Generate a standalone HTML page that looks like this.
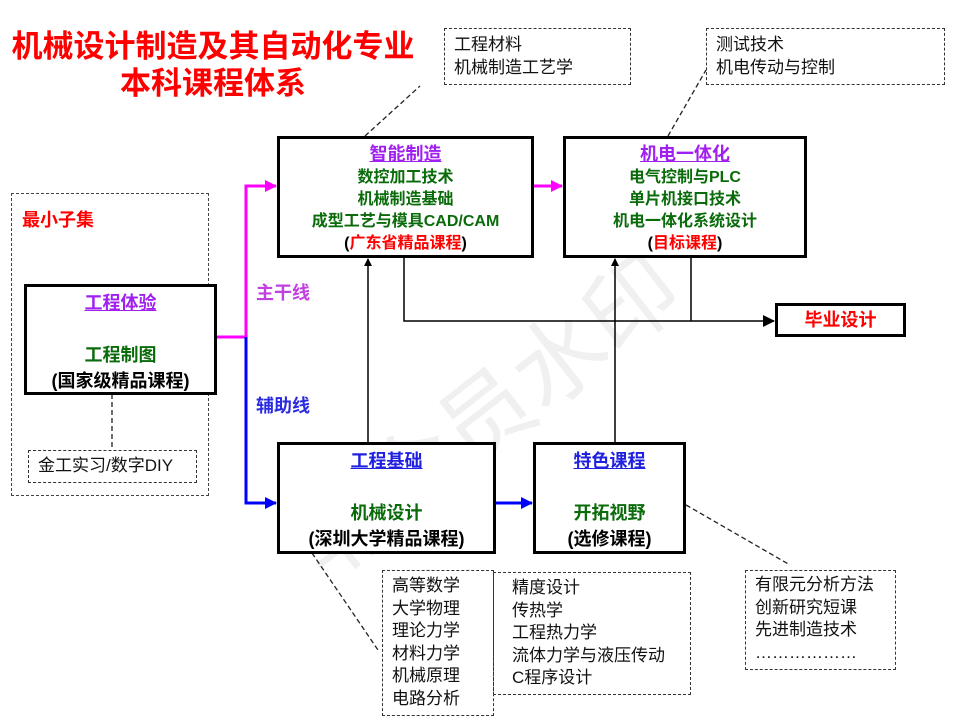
<!DOCTYPE html>
<html><head><meta charset="utf-8"><style>
body{margin:0;width:960px;height:720px;background:#fff;position:relative;overflow:hidden;font-family:"Liberation Sans","Noto Sans CJK SC",sans-serif}
.a{position:absolute}
.box{position:absolute;border:3px solid #000;box-sizing:border-box;background:#fff;text-align:center;font-weight:bold}
.dash{position:absolute;border:1.5px dashed #333;box-sizing:border-box;font-size:17px;line-height:22.5px;color:#111;padding-left:9px}
.g{color:#0a6b0a}.r{color:#f00}.p{color:#a020f0;text-decoration:underline}.b{color:#2020e0;text-decoration:underline}
.t{font-size:16px;line-height:22px}
</style></head><body>
<div class="a" style="font-size:92px;color:#f0f0f0;transform:rotate(-38deg);transform-origin:left top;white-space:nowrap;top:500px;left:260px">非会员水印</div>
<div class="a r" style="left:0;width:426px;top:28px;text-align:center;font-size:31px;font-weight:bold;line-height:37px;white-space:nowrap">机械设计制造及其自动化专业<br>本科课程体系</div>
<div class="dash" style="left:444px;top:28px;width:187px;height:57px;padding-top:5px">工程材料<br>机械制造工艺学</div>
<div class="dash" style="left:706px;top:28px;width:239px;height:57px;padding-top:5px">测试技术<br>机电传动与控制</div>
<div class="a" style="left:11px;top:193px;width:198px;height:303px;border:1.5px dashed #444;box-sizing:border-box"></div>
<div class="a r" style="left:22px;top:206px;font-size:18px;font-weight:bold">最小子集</div>
<svg class="a" style="left:0;top:0" width="960" height="720">
<defs>
<marker id="mk" markerWidth="8" markerHeight="8" refX="7" refY="4" orient="auto" markerUnits="userSpaceOnUse"><path d="M0,0L8,4L0,8z" fill="#000"/></marker>
<marker id="mm" markerWidth="12" markerHeight="12" refX="11" refY="6" orient="auto" markerUnits="userSpaceOnUse"><path d="M0,0L12,6L0,12z" fill="#f0f"/></marker>
<marker id="mb" markerWidth="12" markerHeight="12" refX="11" refY="6" orient="auto" markerUnits="userSpaceOnUse"><path d="M0,0L12,6L0,12z" fill="#00f"/></marker>
<marker id="mk2" markerWidth="12" markerHeight="12" refX="11" refY="6" orient="auto" markerUnits="userSpaceOnUse"><path d="M0,0L12,6L0,12z" fill="#000"/></marker>
</defs>
<g stroke="#222" stroke-dasharray="5,3" stroke-width="1.3" fill="none">
<line x1="365" y1="136" x2="420" y2="86"/><line x1="668" y1="136" x2="706" y2="70"/>
<line x1="312" y1="553" x2="378" y2="650"/><line x1="686" y1="505" x2="790" y2="565"/>
<line x1="112" y1="394" x2="112" y2="450"/>
</g>
<polyline points="216,337 246,337 246,186 276,186" stroke="#f0f" stroke-width="3" fill="none" marker-end="url(#mm)"/>
<line x1="533" y1="186" x2="562" y2="186" stroke="#f0f" stroke-width="3" marker-end="url(#mm)"/>
<polyline points="246,337 246,503 276,503" stroke="#00f" stroke-width="3" fill="none" marker-end="url(#mb)"/>
<line x1="495" y1="503" x2="532" y2="503" stroke="#00f" stroke-width="3" marker-end="url(#mb)"/>
<g stroke="#000" stroke-width="1.5" fill="none">
<line x1="368" y1="442" x2="368" y2="259" marker-end="url(#mk)"/>
<line x1="615" y1="442" x2="615" y2="259" marker-end="url(#mk)"/>
<polyline points="404,257 404,321 774,321" marker-end="url(#mk2)"/>
<line x1="691" y1="257" x2="691" y2="321"/>
</g>
</svg>
<div class="a" style="left:256px;top:279px;font-size:18px;font-weight:bold;color:#c040e0">主干线</div>
<div class="a" style="left:256px;top:392px;font-size:18px;font-weight:bold;color:#2a2ae0">辅助线</div>
<div class="dash" style="left:28px;top:450px;width:169px;height:33px;padding-top:4px;font-size:17px">金工实习/数字DIY</div>
<div class="box" style="left:24px;top:284px;width:193px;height:111px;font-size:18px;line-height:26px;padding-top:3px"><span class="p">工程体验</span><br><br><span class="g">工程制图</span><br>(国家级精品课程)</div>
<div class="box t" style="left:277px;top:136px;width:257px;height:122px;padding-top:4px"><span class="p" style="font-size:18px">智能制造</span><br><span class="g">数控加工技术<br>机械制造基础<br>成型工艺与模具CAD/CAM</span><br>(<span class="r">广东省精品课程</span>)</div>
<div class="box t" style="left:563px;top:136px;width:244px;height:122px;padding-top:4px"><span class="p" style="font-size:18px">机电一体化</span><br><span class="g">电气控制与PLC<br>单片机接口技术<br>机电一体化系统设计</span><br>(<span class="r">目标课程</span>)</div>
<div class="box r" style="left:775px;top:303px;width:131px;height:34px;font-size:18px;line-height:28px">毕业设计</div>
<div class="box" style="left:277px;top:442px;width:219px;height:112px;font-size:18px;line-height:26px;padding-top:3px"><span class="b">工程基础</span><br><br><span class="g">机械设计</span><br>(深圳大学精品课程)</div>
<div class="box" style="left:533px;top:442px;width:153px;height:112px;font-size:18px;line-height:26px;padding-top:3px"><span class="b">特色课程</span><br><br><span class="g">开拓视野</span><br>(选修课程)</div>
<div class="dash" style="left:382px;top:570px;width:112px;height:146px;padding-top:4px">高等数学<br>大学物理<br>理论力学<br>材料力学<br>机械原理<br>电路分析</div>
<div class="dash" style="left:493px;top:572px;width:198px;height:123px;padding-top:4px;padding-left:18px">精度设计<br>传热学<br>工程热力学<br>流体力学与液压传动<br>C程序设计</div>
<div class="dash" style="left:745px;top:570px;width:151px;height:100px;padding-top:3px">有限元分析方法<br>创新研究短课<br>先进制造技术<br>………………</div>
</body></html>
